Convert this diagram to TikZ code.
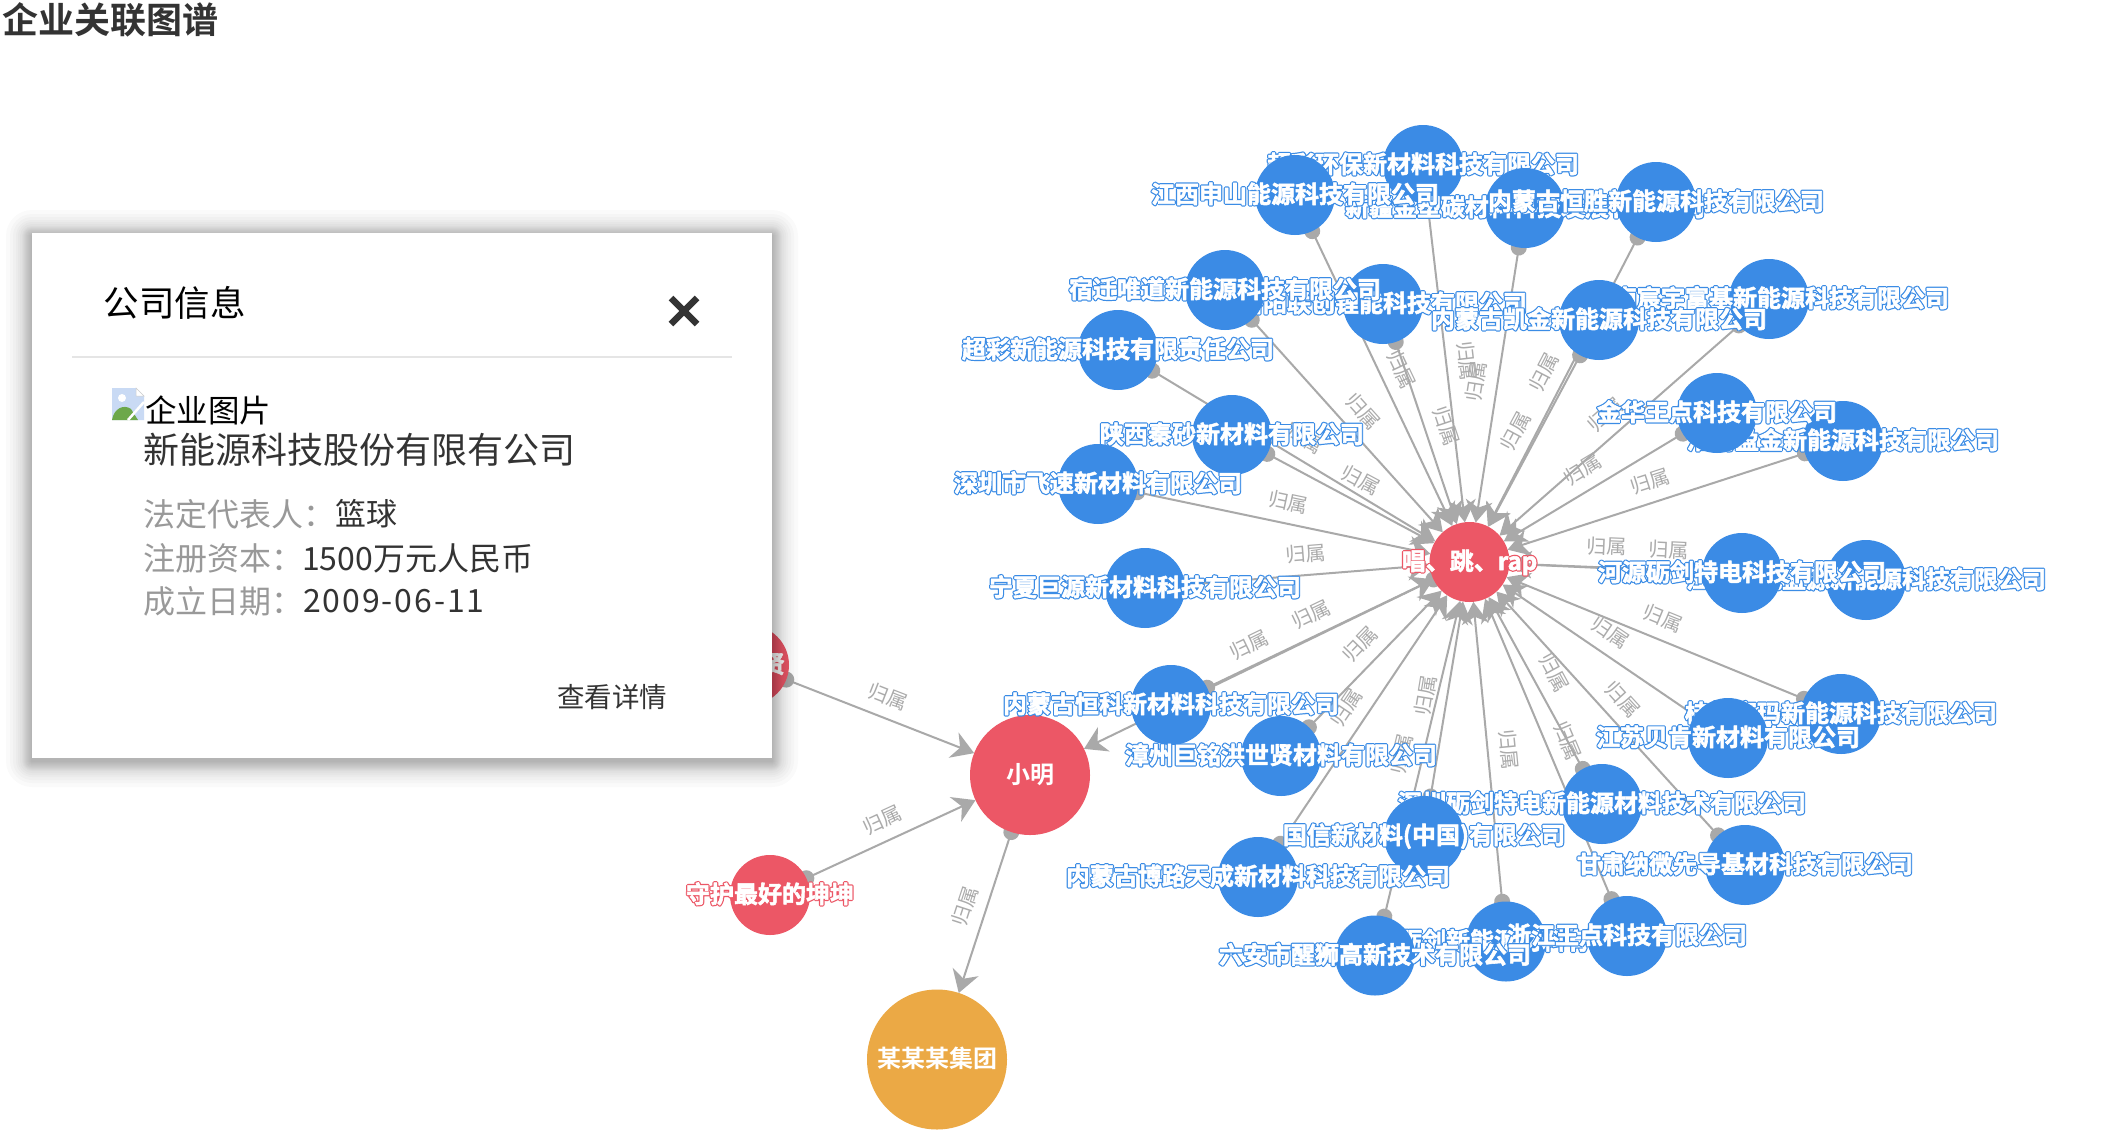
\documentclass[tikz,border=0pt]{standalone}
\usepackage{fontspec}
\setmainfont{Noto Sans CJK SC}[BoldFont=* Bold]
\usetikzlibrary{arrows.meta}
\definecolor{bluenode}{HTML}{3B8BE5}
\definecolor{rednode}{HTML}{EC5766}
\definecolor{orangenode}{HTML}{EBA945}
\definecolor{edgegray}{HTML}{A9A9A9}
\definecolor{labgray}{HTML}{ABABAB}
\definecolor{darktext}{HTML}{333333}
\definecolor{softtext}{HTML}{999999}
\definecolor{sheetblue}{HTML}{C9DAF4}
\definecolor{hillgreen}{HTML}{6DA84A}
\pgfdeclarelayer{bg}\pgfdeclarelayer{edges}
\pgfsetlayers{bg,edges,main}
\newcommand\whitetop[1]{\special{pdf:code 2 Tr 0.55 w 1 j 1 1 1 RG}#1\special{pdf:code 0 Tr 0 j 0 0 0 RG}}
\newcommand\olabblue[1]{\makebox[0pt][l]{\special{pdf:code 1 Tr 3 w 1 j 0.23 0.55 0.90 RG}#1\special{pdf:code 0 Tr 0 j 0 0 0 RG}}\whitetop{#1}}
\newcommand\olabred[1]{\makebox[0pt][l]{\special{pdf:code 1 Tr 3 w 1 j 0.925 0.34 0.40 RG}#1\special{pdf:code 0 Tr 0 j 0 0 0 RG}}\whitetop{#1}}
\tikzset{
  x=1pt,y=-1pt,
  roundnode/.style={circle,inner sep=0pt,outer sep=0pt,draw=none},
  bnode/.style={roundnode,fill=bluenode,minimum size=80pt},
  rnode/.style={roundnode,fill=rednode,minimum size=80pt},
  namelab/.style={inner sep=0pt,outer sep=0pt,text=white,font=\fontsize{24}{24}\selectfont\bfseries,text height=20.5pt,text depth=4.5pt},
  edgeline/.style={draw=edgegray,line width=2pt,{Circle[length=16pt]}-{Stealth[length=22pt,width=27pt,inset=7pt]},shorten <=-8pt},
  elab/.style={midway,sloped,above=11pt,inner sep=0pt,text=labgray,font=\fontsize{20}{20}\selectfont},
  poptext/.style={anchor=west,inner sep=0pt,outer sep=0pt},
}
\newcommand\bn[4]{\node[bnode,label={[namelab]center:\olabblue{#4}}] (#1) at (#2,#3) {};}
\begin{document}
\begin{tikzpicture}
\useasboundingbox (0,0) rectangle (2102,1144);
\begin{pgfonlayer}{bg}
\fill[white] (0,0) rectangle (2102,1144);
\end{pgfonlayer}
\node[anchor=west,inner sep=0pt,text=darktext,font=\fontsize{36}{36}\selectfont\bfseries] (title) at (2,20) {企业关联图谱};
% red and orange nodes
\node[roundnode,fill=rednode,minimum size=120pt,label={[namelab]center:小明}] (xm) at (1030,775) {};
\node[roundnode,fill=orangenode,minimum size=140pt,label={[namelab]center:某某某集团}] (grp) at (937,1059.5) {};
\node[rnode,label={[namelab]center:\olabred{守护最好的坤坤}}] (kun) at (770,895) {};
\node[rnode] (xian) at (749,665) {};
\node[namelab] (xianlab) at (773,665) {\olabred{贤}};
% blue nodes
\bn{bA}{1423}{165}{超彩环保新材料科技有限公司}
\bn{bC}{1525}{208}{新疆金塑碳材料科技发展有限公司}
\bn{bB}{1295}{195}{江西申山能源科技有限公司}
\bn{bD}{1656}{202}{内蒙古恒胜新能源科技有限公司}
\bn{bF}{1383}{304}{洛阳联创锂能科技有限公司}
\bn{bE}{1225}{290}{宿迁唯道新能源科技有限公司}
\bn{bH}{1769}{299}{湖南宸宇富基新能源科技有限公司}
\bn{bG}{1599}{320}{内蒙古凯金新能源科技有限公司}
\bn{bM}{1118}{350}{超彩新能源科技有限责任公司}
\bn{bK}{1232}{435}{陕西秦砂新材料有限公司}
\bn{bL}{1098}{484}{深圳市飞速新材料有限公司}
\bn{bN}{1145}{588}{宁夏巨源新材料科技有限公司}
\bn{bJ}{1843}{441}{淮南盈金新能源科技有限公司}
\bn{bI}{1717}{413}{金华王点科技有限公司}
\bn{bP}{1866}{580}{江苏盐城盛源新能源科技有限公司}
\bn{bO}{1742}{573}{河源砺剑特电科技有限公司}
\bn{bQ}{1841}{714}{桂林赛玛新能源科技有限公司}
\bn{bR}{1728}{738}{江苏贝肯新材料有限公司}
\bn{bZ}{1171}{705}{内蒙古恒科新材料科技有限公司}
\bn{bAA}{1281}{756}{漳州巨铭洪世贤材料有限公司}
\bn{bS}{1602}{804}{深圳砺剑特电新能源材料技术有限公司}
\bn{bT}{1424}{836}{国信新材料(中国)有限公司}
\bn{bU}{1258}{877}{内蒙古博路天成新材料科技有限公司}
\bn{bV}{1745}{865}{甘肃纳微先导基材科技有限公司}
\bn{bX}{1506}{941.5}{深圳砺剑新能源材料有限公司}
\bn{bW}{1627}{936}{浙江王点科技有限公司}
\bn{bY}{1375}{955.5}{六安市醒狮高新技术有限公司}
% hub
\node[rnode,label={[namelab]center:\olabred{唱、跳、rap}}] (hub) at (1469.5,562) {};
% edges
\begin{pgfonlayer}{edges}
\foreach \n in {bA,bB,bC,bD,bE,bF,bG,bH,bI,bJ,bK,bL,bM,bN,bO,bP,bQ,bR,bS,bT,bU,bV,bW,bX,bY,bZ,bAA}
  \draw[edgeline] (\n) -- node[elab] {归属} (hub);
\draw[edgeline] (hub) -- node[elab] {归属} (xm);
\draw[edgeline] (xian) -- node[elab] {归属} (xm);
\draw[edgeline] (kun) -- node[elab] {归属} (xm);
\draw[edgeline] (xm) -- node[elab] {归属} (grp);
\end{pgfonlayer}
% popup
\foreach \d in {1,2,3,4,5,6,7,8,9,10,12,14,16,19,22,26}
  \fill[black,opacity=.02,rounded corners=\d pt] (32-\d,236-\d) rectangle (772+\d,761+\d);
\fill[white] (32,232.5) rectangle (772,757.5);
\node[poptext,font=\fontsize{35.5}{35.5}\selectfont,text=black] (ptitle) at (103.5,303) {公司信息};
\draw[darktext,line width=6.5pt] (671,298) -- (697,324) (697,298) -- (671,324);
\draw[black!10,line width=1.5pt] (72,357) -- (732,357);
% broken image icon
\fill[sheetblue] (112,388) -- (136,388) -- (144,396) -- (144,420) -- (112,420) -- cycle;
\fill[white,draw=gray!40,line width=.5pt] (136,388) -- (144,396) -- (136,396) -- cycle;
\fill[white] (122,398) circle (4);
\fill[hillgreen] (112,420) .. controls (114,408) and (124,404) .. (131,409) -- (138,420) -- cycle;
\draw[white,line width=2.5pt] (128,420) -- (144,402);
\node[poptext,font=\fontsize{31.5}{31.5}\selectfont,text=black] (imgalt) at (145,410) {企业图片};
\node[poptext,font=\fontsize{36}{36}\selectfont,text=darktext] (pname) at (143,450) {新能源科技股份有限有公司};
\node[poptext,font=\fontsize{32}{32}\selectfont,text=softtext] (k1) at (143,514) {法定代表人：};
\node[poptext,font=\fontsize{31}{31}\selectfont,text=darktext] (v1) at (335,514) {篮球};
\node[poptext,font=\fontsize{32}{32}\selectfont,text=softtext] (k2) at (143,558) {注册资本：};
\node[poptext,font=\fontsize{32}{32}\selectfont,text=darktext] (v2) at (302,558) {1500万元人民币};
\node[poptext,font=\fontsize{32}{32}\selectfont,text=softtext] (k3) at (143,601) {成立日期：};
\node[poptext,font=\fontsize{32}{32}\selectfont\addfontfeature{LetterSpace=6},text=darktext] (v3) at (303,601) {2009-06-11};
\node[poptext,font=\fontsize{27.5}{27.5}\selectfont,text=darktext] (more) at (557,697) {查看详情};
\end{tikzpicture}
\end{document}
